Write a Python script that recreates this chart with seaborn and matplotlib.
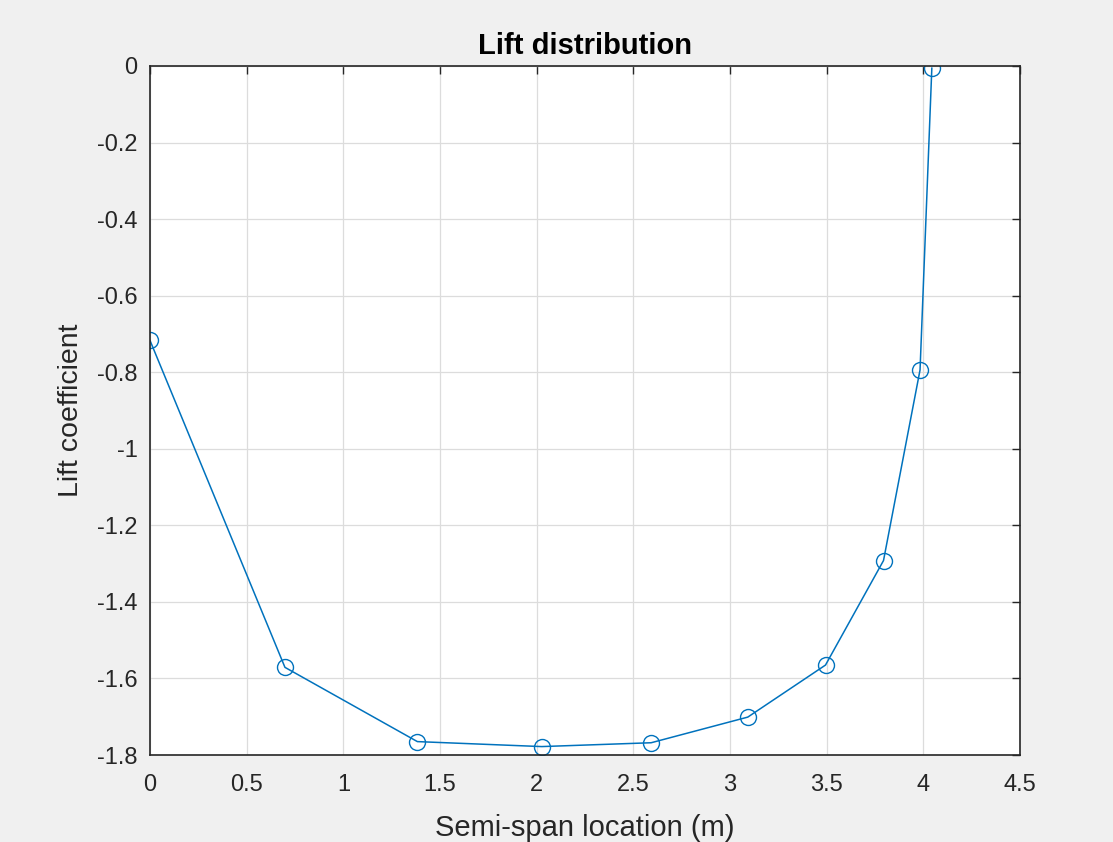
import matplotlib
matplotlib.use("Agg")
import matplotlib.pyplot as plt
import seaborn as sns
import pandas as pd

span = [0.0, 0.698, 1.383, 2.026, 2.592, 3.092, 3.494, 3.794, 3.983, 4.044]
cl = [-0.717, -1.571, -1.765, -1.778, -1.768, -1.701, -1.565, -1.292, -0.794, -0.005]
xticks = [0, 0.5, 1, 1.5, 2, 2.5, 3, 3.5, 4, 4.5]
yticks = [0, -0.2, -0.4, -0.6, -0.8, -1, -1.2, -1.4, -1.6, -1.8]

sns.set_style("white")
plt.rcParams['font.family'] = ['Liberation Sans', 'DejaVu Sans']

fig = plt.figure(figsize=(11.13, 8.42), dpi=100, facecolor='#f0f0f0')
ax = fig.add_axes([150/1113, 1 - 755/842, 870/1113, 689/842])
ax.set_facecolor('white')

df = pd.DataFrame({'x': span, 'y': cl})
sns.lineplot(data=df, x='x', y='y', ax=ax, sort=False, color='#0072BD',
             marker='o', markersize=11.5, markerfacecolor='none',
             markeredgecolor='#0072BD', markeredgewidth=1.0, linewidth=1.1)

ax.set_xlim(0, 4.5)
ax.set_ylim(-1.8, 0)
ax.set_xticks(xticks)
ax.set_yticks(yticks)
ax.set_xticklabels([f"{t:g}" for t in xticks])
ax.set_yticklabels([f"{t:g}" for t in yticks])
ax.grid(True, color='#dcdcdc', linewidth=0.9)
ax.set_axisbelow(True)
for s in ax.spines.values():
    s.set_color('#262626')
    s.set_linewidth(1.2)
    s.set_visible(True)
ax.tick_params(direction='in', length=6, width=1.0, colors='#262626',
               labelsize=17, top=True, right=True, labelcolor='#262626')
ax.tick_params(axis='x', pad=14)
ax.tick_params(axis='y', pad=9)
ax.set_xlabel('Semi-span location (m)', fontsize=21, color='#262626', labelpad=13)
ax.set_ylabel('Lift coefficient', fontsize=20.5, color='#262626', labelpad=9)
ax.set_title('Lift distribution', fontsize=21, fontweight='bold', color='black', pad=9)

fig.savefig('out.png', dpi=100, facecolor=fig.get_facecolor())
